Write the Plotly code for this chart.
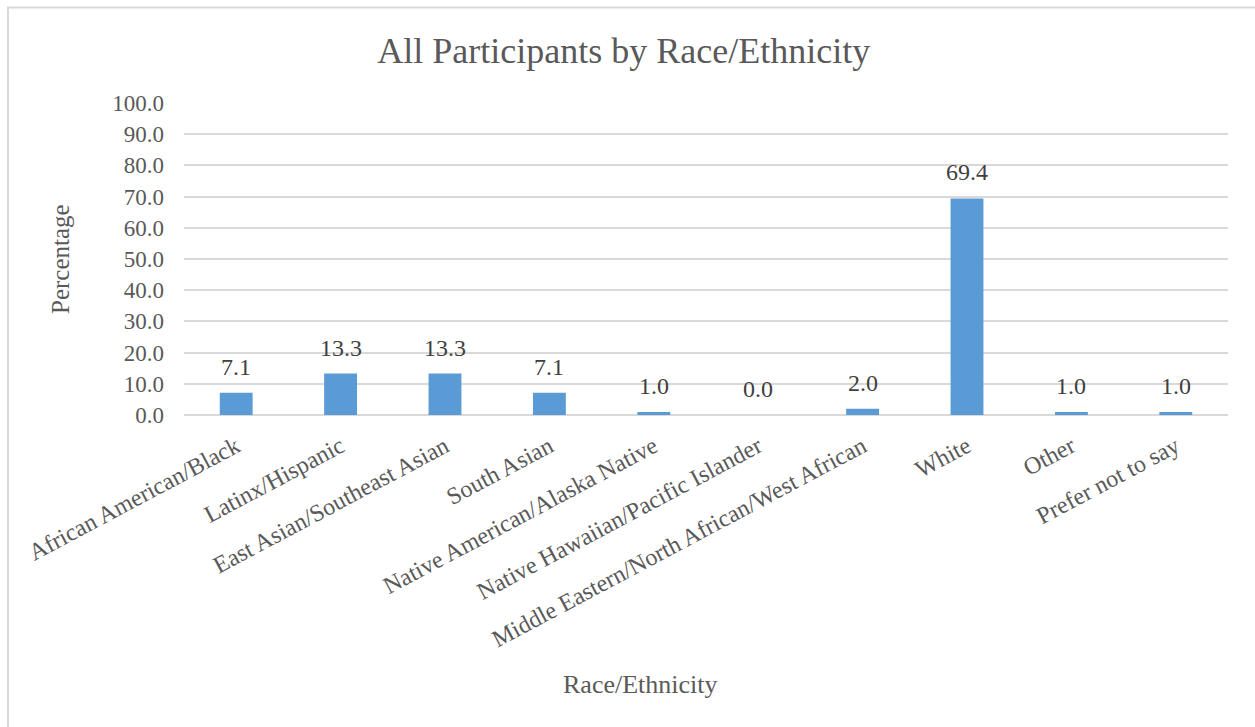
import plotly.graph_objects as go

# Share of all participants in each race/ethnicity group (%)
categories = [
    "African American/Black",
    "Latinx/Hispanic",
    "East Asian/Southeast Asian",
    "South Asian",
    "Native American/Alaska Native",
    "Native Hawaiian/Pacific Islander",
    "Middle Eastern/North African/West African",
    "White",
    "Other",
    "Prefer not to say",
]
percentages = [7.1, 13.3, 13.3, 7.1, 1.0, 0.0, 2.0, 69.4, 1.0, 1.0]
y_ticks = [0, 10, 20, 30, 40, 50, 60, 70, 80, 90, 100]

FONT = "Liberation Serif, Times New Roman, serif"
TEXT = "#595959"
GRID = "#D9D9D9"
BAR = "#5B9BD5"

fig = go.Figure(
    go.Bar(
        x=categories,
        y=percentages,
        marker=dict(color=BAR, line=dict(width=0)),
        hoverinfo="x+y",
    )
)

# Value labels sitting just above each bar
for cat, val in zip(categories, percentages):
    fig.add_annotation(
        x=cat, y=val, xref="x", yref="y",
        text=f"{val:.1f}", showarrow=False,
        yanchor="bottom", yshift=11,
        font=dict(family=FONT, size=24, color="#404040"),
    )

# Axis titles
fig.add_annotation(
    x=0.4377, y=-0.865, xref="paper", yref="paper",
    text="Race/Ethnicity", showarrow=False,
    xanchor="center", yanchor="middle",
    font=dict(family=FONT, size=26, color=TEXT),
)
fig.add_annotation(
    x=-0.1188, y=0.5, xref="paper", yref="paper",
    text="Percentage", showarrow=False, textangle=-90,
    xanchor="center", yanchor="middle",
    font=dict(family=FONT, size=25, color=TEXT),
)

# Chart-area frame
fig.add_shape(
    type="rect", xref="paper", yref="paper",
    x0=-0.1686, x1=1.2, y0=-1.5, y1=1.306,
    line=dict(color=GRID, width=2), fillcolor="rgba(0,0,0,0)", layer="below",
)

fig.update_layout(
    width=1255, height=727,
    margin=dict(l=184, r=27, t=103, b=312),
    paper_bgcolor="white", plot_bgcolor="white",
    bargap=0.685,
    showlegend=False,
    title=dict(
        text="All Participants by Race/Ethnicity",
        xref="container", yref="container",
        x=0.497, y=0.931, xanchor="center", yanchor="middle",
        font=dict(family=FONT, size=36, color=TEXT),
    ),
    xaxis=dict(
        tickangle=-28,
        tickfont=dict(family=FONT, size=24, color=TEXT),
        ticklabelstandoff=12,
        showgrid=False, showline=False, ticks="",
        zeroline=False,
    ),
    yaxis=dict(
        range=[0, 100],
        tickvals=y_ticks,
        ticktext=[f"{v:.1f}" for v in y_ticks],
        tickfont=dict(family=FONT, size=23, color=TEXT),
        ticklabelstandoff=19,
        showgrid=True, gridcolor=GRID, gridwidth=2,
        zeroline=True, zerolinecolor=GRID, zerolinewidth=2,
        showline=False, ticks="", ticklen=0,
    ),
)

fig.write_html("out.html")
